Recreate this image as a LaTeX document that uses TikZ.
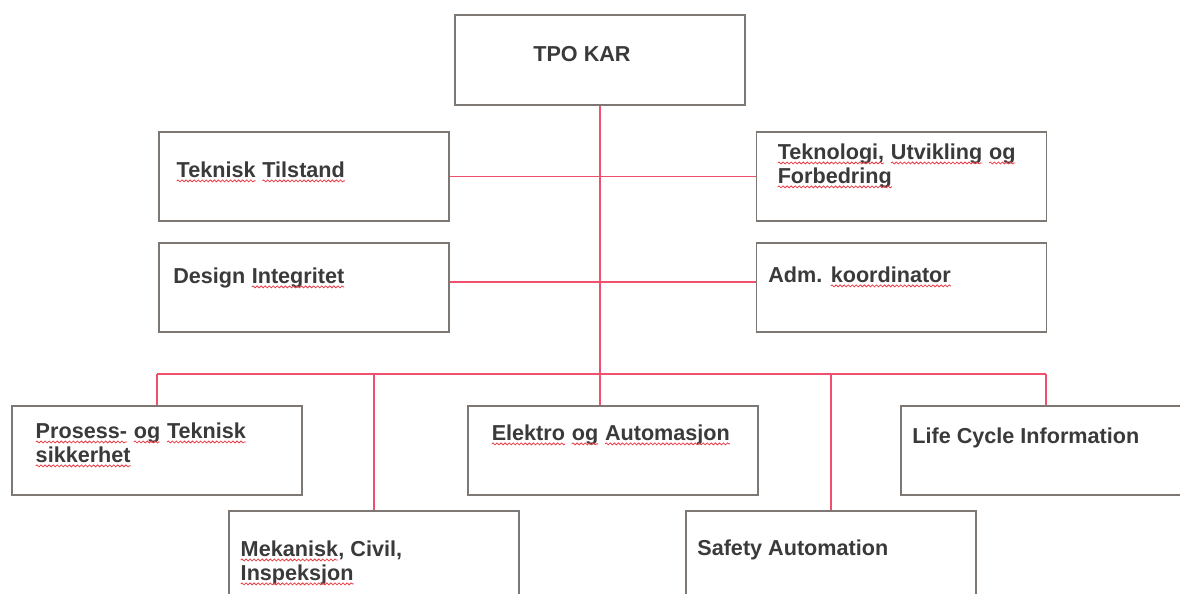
\documentclass[tikz,border=0pt]{standalone}
\usepackage{fontspec}
\setmainfont{Liberation Sans}
\usepackage{xcolor}
\usetikzlibrary{decorations.pathmorphing}

\definecolor{linkred}{RGB}{240,80,110}
\definecolor{boxgray}{RGB}{125,120,116}
\definecolor{txtgray}{RGB}{58,58,58}
\definecolor{wavered}{RGB}{235,60,70}

% red wavy underline, as a spell checker marks words
\newcommand\spell[1]{\tikz[baseline=(w.base)]{\node[anchor=center, inner sep=0pt, outer sep=0pt] (w) {#1};
	\draw[wavered, line width=0.45pt, decorate, decoration={snake, amplitude=0.55pt, segment length=2.3pt}] ([yshift=-2.2pt]w.base west) -- ([yshift=-2.2pt]w.base east);}}

\begin{document}
\begin{tikzpicture}[x=0.02cm, y=-0.02cm,
	unit/.style={draw=boxgray, line width=0.75pt, minimum width=5.8cm, minimum height=1.78cm, inner sep=0pt},
	lbl/.style={anchor=base west, inner sep=0pt, align=left, text=txtgray, font=\fontsize{12.3}{13.6}\selectfont\bfseries},
	link/.style={draw=linkred, line width=0.85pt}]
	
	\clip (0,0) rectangle (1180,593);
	
	% boxes
	\node[unit, minimum height=1.8cm] (tpo) at (600,60) {};
	\node[unit] (tilstand) at (304,176.5) {};
	\node[unit] (teknologi) at (901.5,176.5) {};
	\node[unit] (design) at (304,287.5) {};
	\node[unit] (adm) at (901.5,287.5) {};
	\node[unit] (prosess) at (157,450.5) {};
	\node[unit] (elektro) at (613,450.5) {};
	\node[unit] (life) at (1046,450.5) {};
	\node[unit] (mekanisk) at (374,555.5) {};
	\node[unit] (safety) at (831,555.5) {};
	
	% texts (two-line texts sit on their last line)
	\node[lbl] (tpotxt) at (533,61) {TPO KAR};
	\node[lbl] (tilstandtxt) at (176,177) {\spell{Teknisk} \spell{Tilstand}};
	\node[lbl] (teknologitxt) at (777,183) {\spell{Teknologi,} \spell{Utvikling} \spell{og}\\\spell{Forbedring}};
	\node[lbl] (designtxt) at (173,283) {Design \spell{Integritet}};
	\node[lbl] (admtxt) at (768,282) {Adm. \spell{koordinator}};
	\node[lbl] (prosesstxt) at (35,462) {\spell{Prosess-} \spell{og} \spell{Teknisk}\\\spell{sikkerhet}};
	\node[lbl] (elektrotxt) at (491,440) {\spell{Elektro} \spell{og} \spell{Automasjon}};
	\node[lbl] (lifetxt) at (912,443) {Life Cycle Information};
	\node[lbl] (mekanisktxt) at (240,580) {\spell{Mekanisk}, Civil,\\\spell{Inspeksjon}};
	\node[lbl] (safetytxt) at (697,555) {Safety Automation};
	
	% connectors
	\coordinate (hub) at (600,374);
	\draw[link] (tpo.south) -- (hub);
	\draw[link] (tilstand.east) -- (teknologi.west);
	\draw[link] ([yshift=0.11cm]design.east) -- ([yshift=0.11cm]adm.west);
	\draw[link] (prosess.north |- hub) -- (life.north |- hub);
	\foreach \n in {prosess,mekanisk,safety,life}
		\draw[link] (\n.north |- hub) -- (\n.north);
	\draw[link] (hub) -- (hub |- elektro.north);
	
\end{tikzpicture}
\end{document}
